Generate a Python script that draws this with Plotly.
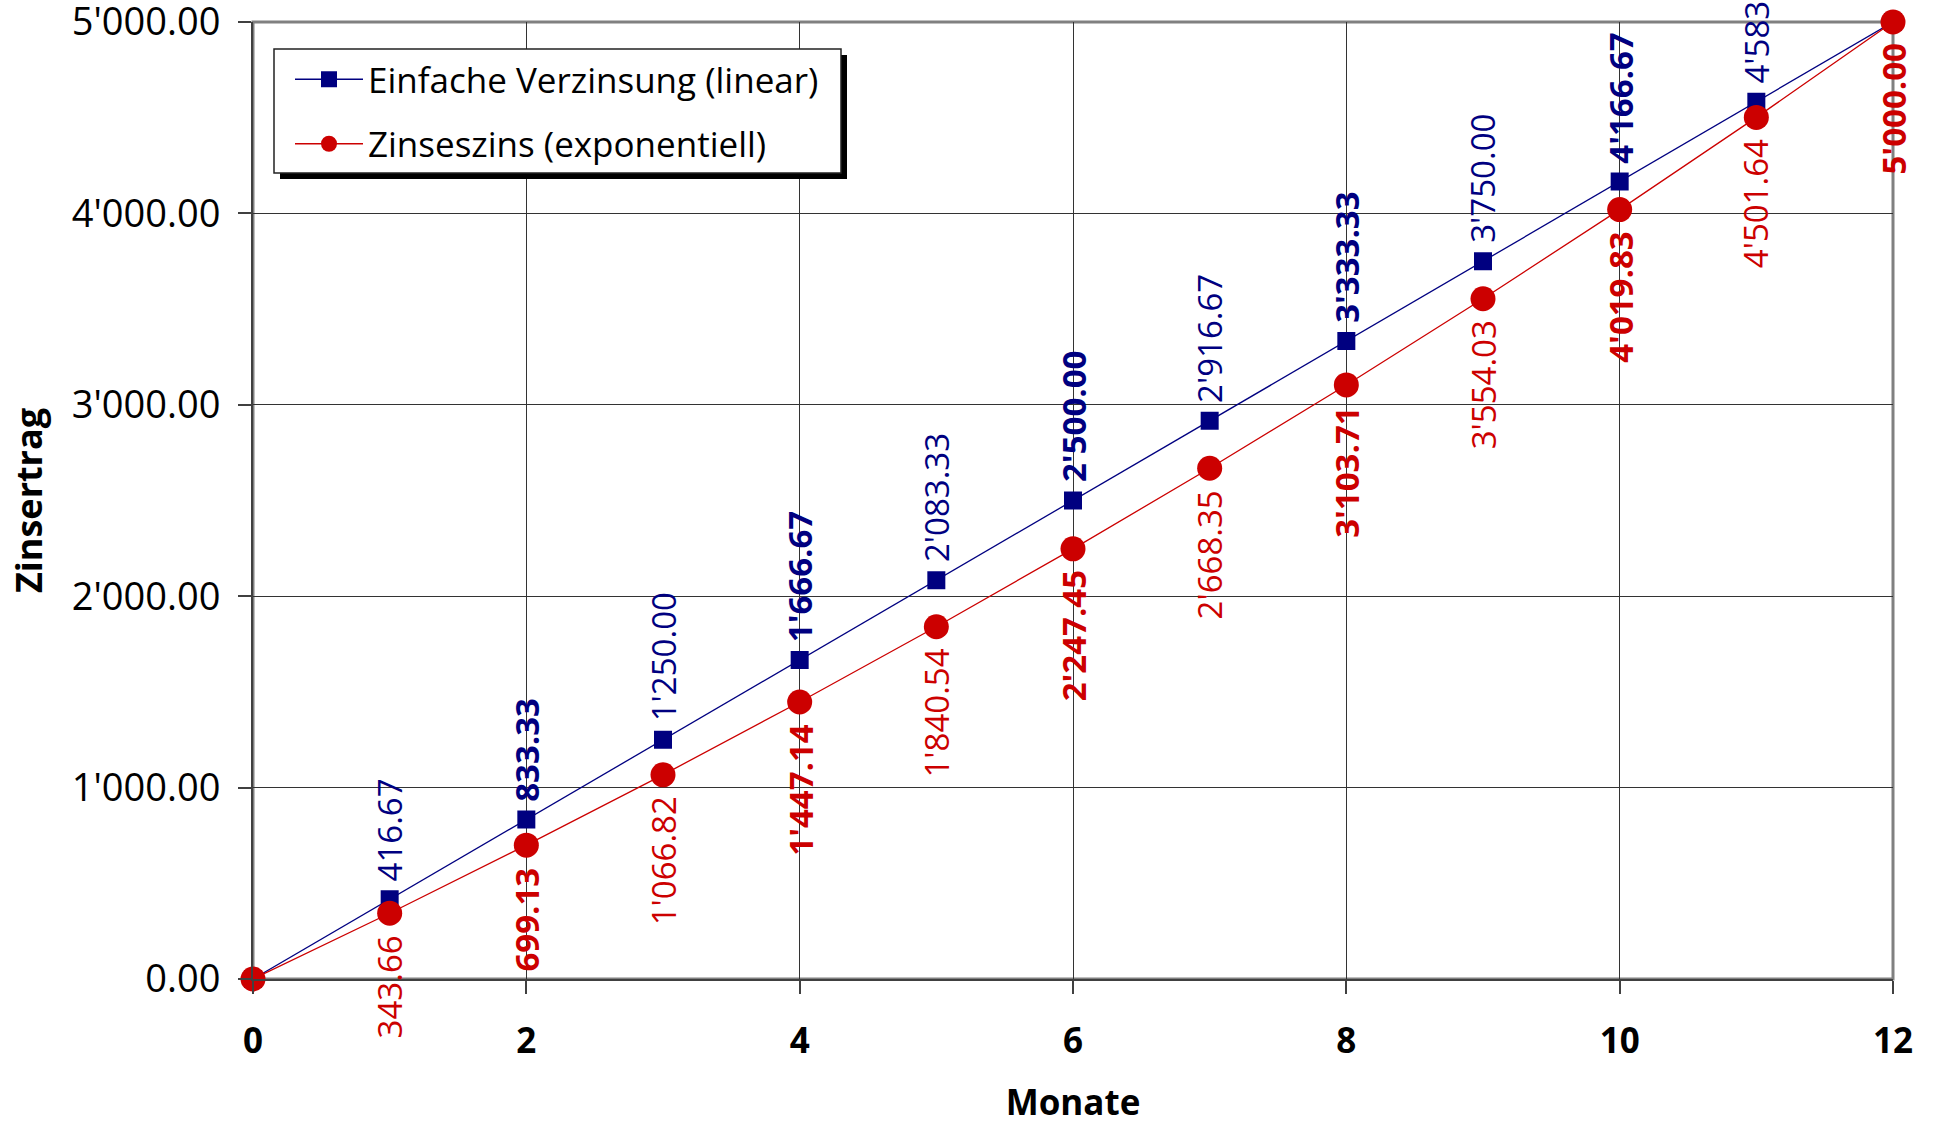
import plotly.graph_objects as go

# ---- data ----
monate = [0, 1, 2, 3, 4, 5, 6, 7, 8, 9, 10, 11, 12]
einfach = [0.00, 416.67, 833.33, 1250.00, 1666.67, 2083.33, 2500.00,
           2916.67, 3333.33, 3750.00, 4166.67, 4583.33, 5000.00]
zinseszins = [0.00, 343.66, 699.13, 1066.82, 1447.14, 1840.54, 2247.45,
              2668.35, 3103.71, 3554.03, 4019.83, 4501.64, 5000.00]
name_einfach = "Einfache Verzinsung (linear)"
name_zins = "Zinseszins (exponentiell)"
x_title = "Monate"
y_title = "Zinsertrag"

BLUE = "#000080"
RED = "#CC0000"
FONT = "Open Sans"

W, H = 1933, 1125
ML, MR, MT, MB = 253, 40, 22, 146
PW, PH = W - ML - MR, H - MT - MB


def px_to_paper(px, py):
    return (px - ML) / PW, (H - MB - py) / PH


def fmt(v):
    return f"{v:,.2f}".replace(",", "'")


fig = go.Figure()
fig.add_trace(go.Scatter(
    x=monate, y=einfach, name=name_einfach, mode="lines+markers",
    line=dict(color=BLUE, width=1.3),
    marker=dict(symbol="square", size=18, color=BLUE, line=dict(width=0)),
    cliponaxis=False, legendgroup="a"))
fig.add_trace(go.Scatter(
    x=monate, y=zinseszins, name=name_zins, mode="lines+markers",
    line=dict(color=RED, width=1.3),
    marker=dict(symbol="circle", size=25, color=RED, line=dict(width=0)),
    cliponaxis=False, legendgroup="b"))

annotations = []
# blue labels: the first (0) and last (above the top edge) are not shown in the reference
for i, (m, v) in enumerate(zip(monate, einfach)):
    if i == 0 or i == len(monate) - 1:
        continue
    t = fmt(v)
    if i % 2 == 0:
        t = f"<b>{t}</b>"
    annotations.append(dict(x=m, y=v, xref="x", yref="y", text=t, showarrow=False,
                            textangle=-90, xanchor="center", yanchor="bottom", yshift=16,
                            font=dict(family=FONT, size=33, color=BLUE)))
for i, (m, v) in enumerate(zip(monate, zinseszins)):
    if i == 0:
        continue
    t = fmt(v)
    if i % 2 == 0:
        t = f"<b>{t}</b>"
    annotations.append(dict(x=m, y=v, xref="x", yref="y", text=t, showarrow=False,
                            textangle=-90, xanchor="center", yanchor="top", yshift=-20,
                            font=dict(family=FONT, size=33, color=RED)))

# legend box (drawn as shapes) and its shadow
bx0, by0 = px_to_paper(274, 173)
bx1, by1 = px_to_paper(841, 49)
sx0, sy0 = px_to_paper(280, 179)
sx1, sy1 = px_to_paper(847, 55)
lx, ly = px_to_paper(290, 50)

shapes = [
    # plot-area border
    dict(type="rect", xref="paper", yref="paper", x0=0, y0=0, x1=1, y1=1,
         line=dict(color="#808080", width=3), layer="below"),
    # legend shadow
    dict(type="rect", xref="paper", yref="paper", x0=sx0, y0=sy0, x1=sx1, y1=sy1,
         fillcolor="black", line=dict(width=0), layer="above"),
    # legend box
    dict(type="rect", xref="paper", yref="paper", x0=bx0, y0=by0, x1=bx1, y1=by1,
         fillcolor="white", line=dict(color="#222222", width=1.5), layer="above"),
]

fig.update_layout(
    width=W, height=H,
    margin=dict(l=ML, r=MR, t=MT, b=MB, autoexpand=False),
    paper_bgcolor="white", plot_bgcolor="white",
    font=dict(family=FONT, size=34, color="black"),
    separators=".'",
    showlegend=True,
    legend=dict(x=lx, y=ly, xanchor="left", yanchor="top",
                bgcolor="rgba(0,0,0,0)", borderwidth=0,
                font=dict(family=FONT, size=35, color="black"),
                tracegroupgap=16, itemwidth=68),
    annotations=annotations,
    shapes=shapes,
)

fig.update_xaxes(
    range=[0, 12], dtick=2, tick0=0,
    showgrid=True, gridcolor="#333333", gridwidth=1,
    showline=True, linecolor="#404040", linewidth=2,
    ticks="outside", ticklen=13, tickcolor="#404040", tickwidth=1.5,
    tickfont=dict(family=FONT, size=35, color="black", weight="bold"),
    ticklabelstandoff=17, ticklabeloverflow="allow",
    zeroline=False,
    title=dict(text=f"<b>{x_title}</b>", font=dict(family=FONT, size=35, color="black"),
               standoff=39),
)
fig.update_yaxes(
    range=[0, 5000], dtick=1000, tick0=0,
    tickformat=",.2f",
    showgrid=True, gridcolor="#333333", gridwidth=1,
    showline=True, linecolor="#404040", linewidth=2,
    ticks="outside", ticklen=13, tickcolor="#404040", tickwidth=1.5,
    tickfont=dict(family=FONT, size=38, color="black"),
    ticklabelstandoff=10, ticklabeloverflow="allow",
    zeroline=False,
    title=dict(text=f"<b>{y_title}</b>", font=dict(family=FONT, size=36, color="black"),
               standoff=18),
)

fig.write_html("out.html")
